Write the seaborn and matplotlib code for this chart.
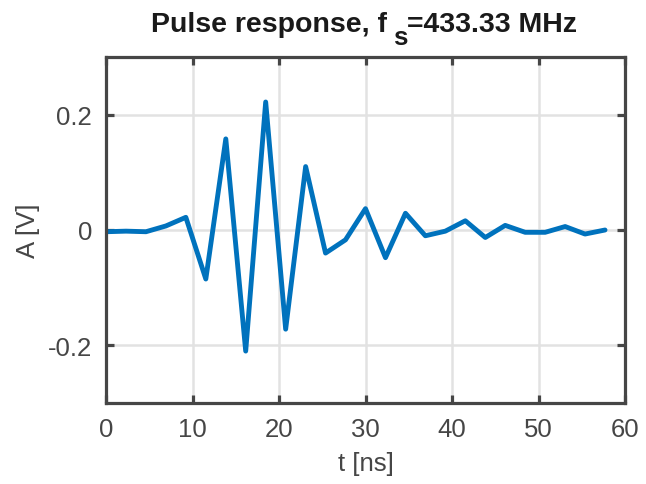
import numpy as np
import pandas as pd
import matplotlib
matplotlib.use("Agg")
import matplotlib.pyplot as plt
import seaborn as sns

fs_mhz = 433.33
t_ns = [0.0, 2.31, 4.62, 6.92, 9.23, 11.54, 13.85, 16.15, 18.46, 20.77,
        23.08, 25.38, 27.69, 30.0, 32.31, 34.62, 36.92, 39.23, 41.54, 43.85,
        46.15, 48.46, 50.77, 53.08, 55.38, 57.69]
amp_v = [-0.003, -0.002, -0.003, 0.007, 0.022, -0.085, 0.158, -0.210, 0.222, -0.172,
         0.110, -0.040, -0.017, 0.037, -0.048, 0.029, -0.010, -0.002, 0.016, -0.013,
         0.008, -0.004, -0.004, 0.006, -0.007, 0.000]
xticks = [0, 10, 20, 30, 40, 50, 60]
yticks = [-0.2, 0, 0.2]
ytick_labels = ["-0.2", "0", "0.2"]
title_parts = ["Pulse response, f", "s", "=433.33 MHz"]

sns.set_theme(style="whitegrid")
plt.rcParams['font.family'] = ['Liberation Sans', 'DejaVu Sans']

W, H = 646, 485
df = pd.DataFrame({"t": t_ns, "A": amp_v})

fig = plt.figure(figsize=(W / 100, H / 100), dpi=100)
ax = fig.add_axes([106 / W, 1 - 404 / H, (625 - 106) / W, (404 - 58) / H])
sns.lineplot(data=df, x="t", y="A", ax=ax, color="#0072BD", linewidth=3.5)

ax.set_xlim(0, 60)
ax.set_ylim(-0.3, 0.3)
ax.set_xticks(xticks)
ax.set_yticks(yticks)
ax.set_yticklabels(ytick_labels)
ax.grid(True, color="#e2e2e2", linewidth=1.8)
ax.set_axisbelow(True)
for s in ax.spines.values():
    s.set_color("#464646")
    s.set_linewidth(2.3)
    s.set_visible(True)
ax.tick_params(axis="both", direction="in", length=6, width=2.3, color="#464646",
               labelsize=18.5, labelcolor="#464646", top=True, right=True,
               left=True, bottom=True, pad=10)
ax.set_xlabel("t [ns]", fontsize=18.5, color="#464646", labelpad=7)
ax.set_ylabel("A [V]", fontsize=18.5, color="#464646", labelpad=6)

# Title with a full-height, lowered subscript (MATLAB style)
r = fig.canvas.get_renderer()
kw = dict(fontweight="bold", color="#1a1a1a", ha="left", va="baseline")
t1 = fig.text(0, 0, title_parts[0], fontsize=20.5, **kw)
t2 = fig.text(0, 0, title_parts[1], fontsize=18.5, **kw)
t3 = fig.text(0, 0, title_parts[2], fontsize=20.5, **kw)
w1 = t1.get_window_extent(r).width
w2 = t2.get_window_extent(r).width
w3 = t3.get_window_extent(r).width
gap = 6
total = w1 + gap + w2 + w3
x0 = 364 - total / 2
base = H - 32
sub_base = H - 45
t1.set_position((x0 / W, base / H))
t2.set_position(((x0 + w1 + gap) / W, sub_base / H))
t3.set_position(((x0 + w1 + gap + w2) / W, base / H))

fig.savefig("out.png", dpi=100)
